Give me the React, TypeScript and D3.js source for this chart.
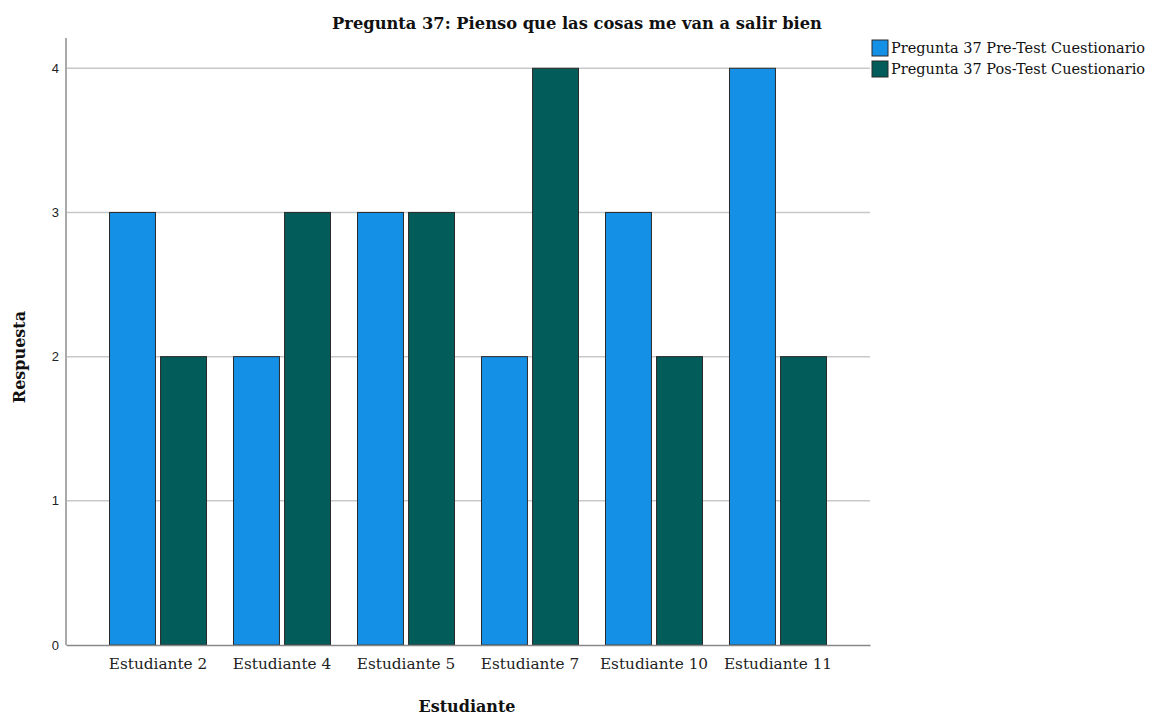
import * as d3 from 'd3';
import { useEffect, useRef } from 'react';

const students = ['Estudiante 2', 'Estudiante 4', 'Estudiante 5', 'Estudiante 7', 'Estudiante 10', 'Estudiante 11'];
const preTest = [3, 2, 3, 2, 3, 4];
const posTest = [2, 3, 3, 4, 2, 2];
const seriesNames = ['Pregunta 37 Pre-Test Cuestionario', 'Pregunta 37 Pos-Test Cuestionario'];
const seriesColors = ['#1490e6', '#015c5a'];
const yTicks = [0, 1, 2, 3, 4];

export default function App() {
    const svgRef = useRef<SVGSVGElement>(null);

    useEffect(() => {
        if (!svgRef.current) return;

        const width = 1150;
        const height = 715;
        const margin = { top: 38, right: 280, bottom: 70, left: 66 };

        const svg = d3.select(svgRef.current).attr('width', width).attr('height', height);
        svg.selectAll('*').remove();

        const serif = '"DejaVu Serif", serif';
        const sans = '"Liberation Sans", Arial, sans-serif';

        const x0 = d3
            .scaleBand<string>()
            .domain(students)
            .range([margin.left, width - margin.right])
            .paddingInner(0)
            .paddingOuter(0.242);

        const x1 = d3
            .scaleBand<number>()
            .domain([0, 1])
            .range([13.5, x0.bandwidth() - 13.5])
            .paddingInner(0.1);

        const y = d3.scaleLinear().domain([0, 4.21]).range([height - margin.bottom, margin.top]);

        // gridlines
        svg.append('g')
            .selectAll('line')
            .data(yTicks.filter((t) => t > 0))
            .join('line')
            .attr('x1', margin.left)
            .attr('x2', width - margin.right)
            .attr('y1', (d) => y(d))
            .attr('y2', (d) => y(d))
            .attr('stroke', '#c8c8c8')
            .attr('stroke-width', 1.5);

        // y axis
        const yAxis = svg
            .append('g')
            .attr('transform', `translate(${margin.left},0)`)
            .call(d3.axisLeft(y).tickValues(yTicks).tickSize(0).tickPadding(7).tickFormat(d3.format('d')));
        yAxis.select('.domain').remove();
        yAxis.selectAll('text').attr('fill', '#222').attr('font-size', '13px').attr('font-family', sans);

        // bars
        const groups = svg
            .append('g')
            .selectAll('g')
            .data(students)
            .join('g')
            .attr('transform', (d) => `translate(${x0(d)},0)`);

        groups
            .selectAll('rect')
            .data((d, i) => [preTest[i], posTest[i]].map((v, k) => ({ k, v })))
            .join('rect')
            .attr('x', (d) => x1(d.k)!)
            .attr('width', x1.bandwidth())
            .attr('y', (d) => y(d.v))
            .attr('height', (d) => y(0) - y(d.v))
            .attr('fill', (d) => seriesColors[d.k])
            .attr('stroke', '#2a2a2a')
            .attr('stroke-width', 1);

        // axes lines
        svg.append('line')
            .attr('x1', margin.left)
            .attr('x2', margin.left)
            .attr('y1', margin.top)
            .attr('y2', y(0))
            .attr('stroke', '#aaa')
            .attr('stroke-width', 2);

        const xAxis = svg
            .append('g')
            .attr('transform', `translate(0,${y(0)})`)
            .call(d3.axisBottom(x0).tickSize(0).tickPadding(13));
        xAxis.select('.domain').attr('stroke', '#888').attr('stroke-width', 1.5);
        xAxis.selectAll('text').attr('fill', '#222').attr('font-size', '15.3px').attr('font-family', serif);

        // title
        svg.append('text')
            .attr('x', 577)
            .attr('y', 29)
            .attr('text-anchor', 'middle')
            .attr('font-family', serif)
            .attr('font-weight', 'bold')
            .attr('font-size', '16.3px')
            .attr('fill', '#111')
            .text('Pregunta 37: Pienso que las cosas me van a salir bien');

        // axis titles
        svg.append('text')
            .attr('x', 467)
            .attr('y', 712)
            .attr('text-anchor', 'middle')
            .attr('font-family', serif)
            .attr('font-weight', 'bold')
            .attr('font-size', '16px')
            .attr('fill', '#111')
            .text('Estudiante');

        svg.append('text')
            .attr('transform', `translate(25,357) rotate(-90)`)
            .attr('text-anchor', 'middle')
            .attr('font-family', serif)
            .attr('font-weight', 'bold')
            .attr('font-size', '16px')
            .attr('fill', '#111')
            .text('Respuesta');

        // legend
        const legend = svg
            .append('g')
            .selectAll('g')
            .data(seriesNames)
            .join('g')
            .attr('transform', (d, i) => `translate(872,${40 + i * 21})`);

        legend
            .append('rect')
            .attr('width', 16)
            .attr('height', 16)
            .attr('fill', (d, i) => seriesColors[i])
            .attr('stroke', '#2a2a2a')
            .attr('stroke-width', 1);

        legend
            .append('text')
            .attr('x', 19)
            .attr('y', 13)
            .attr('font-family', serif)
            .attr('font-size', '14.5px')
            .attr('fill', '#111')
            .text((d) => d);
    }, []);

    return <svg ref={svgRef} style={{ position: 'absolute', left: 0, top: 0, background: '#fff' }} />;
}
